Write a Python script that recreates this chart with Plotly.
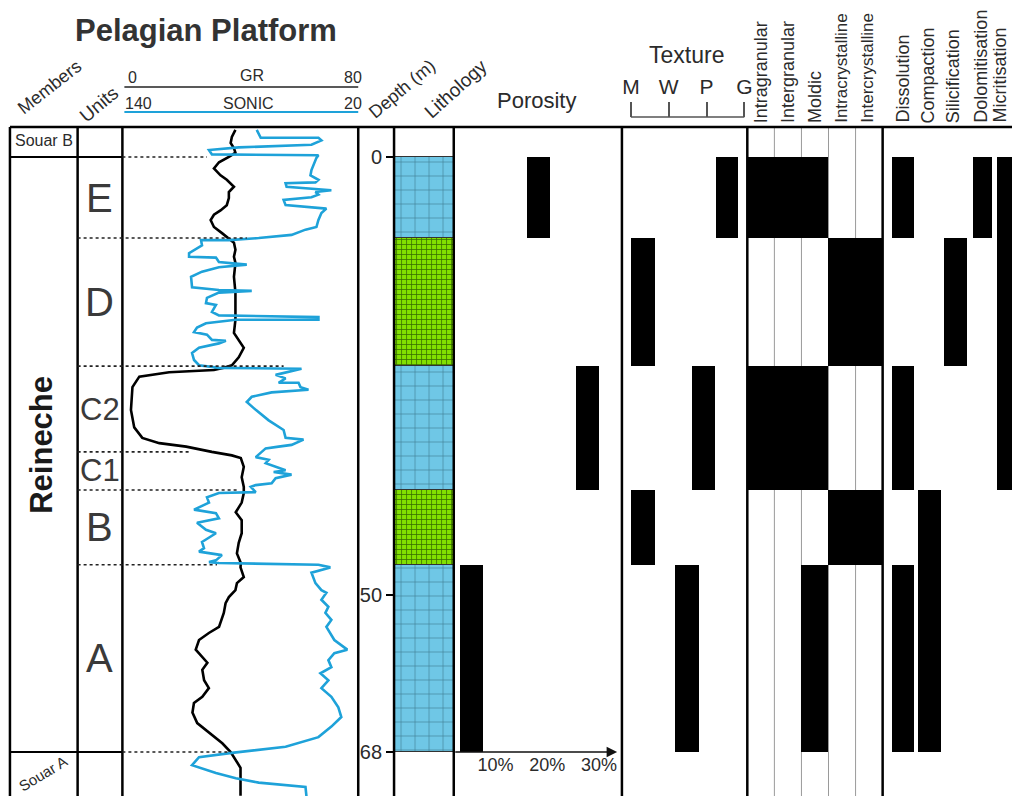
import plotly.graph_objects as go

W, H = 1017, 796


def px(x):
    return x / W


def py(y):
    return 1 - y / H


FONT = "Liberation Sans, Arial, sans-serif"
TXT = "#2b2b2b"
BLUE = "#1ea2d9"

# ---------------- data ----------------
units = ["E", "D", "C2", "C1", "B", "A"]
unit_top = [0.0, 9.26, 23.9, 33.7, 38.06, 46.6]
unit_base = [9.26, 23.9, 33.7, 38.06, 46.6, 68.0]

# zones used for lithology / porosity / texture / pore types / diagenesis
zones = ["E", "D", "C", "B", "A"]
zone_top = [0.0, 9.26, 23.9, 38.06, 46.6]
zone_base = [9.26, 23.9, 38.06, 46.6, 68.0]
lithology = ["Limestone", "Dolomite", "Limestone", "Dolomite", "Limestone"]

# porosity ranges (%) for E, C, A
poro_top = [0.0, 23.9, 46.6]
poro_base = [9.26, 38.06, 68.0]
poro_low = [16.0, 25.5, 3.0]
poro_high = [20.5, 30.0, 7.5]

# texture (M=0, W=1, P=2, G=3) ranges per zone
texture_labels = ["M", "W", "P", "G"]
tex_low = [2.24, 0.0, 1.61, 0.0, 1.16]
tex_high = [2.84, 0.63, 2.21, 0.63, 1.79]

pore_types = ["Intragranular", "Intergranular", "Moldic", "Intracrystalline", "Intercrystalline"]
pore_presence = [
    [1, 0, 1, 0, 0],
    [1, 0, 1, 0, 0],
    [1, 0, 1, 0, 1],
    [0, 1, 0, 1, 0],
    [0, 1, 0, 1, 0],
]
diagenesis = ["Dissolution", "Compaction", "Silicification", "Dolomitisation", "Micritisation"]
diag_presence = [
    [1, 0, 1, 0, 1],
    [0, 0, 0, 1, 1],
    [0, 1, 0, 0, 0],
    [1, 0, 0, 0, 0],
    [1, 1, 1, 0, 0],
]

gr_depth = [-3.1, -2.3, -1.6, -1.0, -0.5, 0.0, 0.6, 1.3, 2.1, 2.6, 3.4, 4.0, 4.7, 5.5, 6.1, 6.6,
            7.2, 8.0, 8.7, 9.3, 9.8, 10.6, 11.4, 12.1, 13.7, 15.5, 17.1, 18.6, 20.1, 20.9, 21.8,
            22.9, 23.8, 24.1, 24.35, 24.6, 25.1, 26.3, 28.9, 30.9, 32.1, 32.7, 33.1, 33.7, 34.1,
            34.4, 35.4, 36.6, 37.7, 38.4, 39.5, 40.6, 41.5, 43.0, 44.1, 45.3, 46.4, 46.9, 48.0,
            48.7, 49.5, 50.3, 51.0, 52.1, 53.7, 54.4, 55.2, 56.3, 57.1, 57.8, 58.6, 59.8, 60.7,
            61.7, 62.4, 63.5, 64.7, 65.8, 67.0, 68.0, 68.9, 69.8, 71.2, 73.0]
gr_value = [37.2, 36.0, 35.6, 36.7, 37.2, 35.0, 31.7, 30.0, 32.2, 34.3, 36.7, 35.0, 35.0, 34.3,
            32.2, 30.0, 28.9, 30.0, 32.7, 35.0, 36.7, 37.2, 36.7, 37.2, 36.7, 37.2, 37.2, 37.2,
            36.7, 38.3, 40.0, 38.3, 36.0, 33.0, 30.0, 15.0, 5.0, 2.7, 2.2, 3.3, 6.0, 11.7, 20.7,
            29.3, 36.0, 39.0, 40.0, 39.3, 40.0, 40.0, 39.3, 37.3, 39.3, 39.3, 38.3, 37.7, 39.0,
            38.9, 40.0, 37.7, 37.2, 35.0, 33.9, 33.3, 31.7, 28.3, 25.0, 23.9, 26.1, 27.8, 26.1,
            26.7, 28.3, 26.1, 23.3, 22.8, 24.4, 28.3, 32.8, 35.6, 37.2, 38.9, 38.9, 38.9]

sonic_depth = [-3.1, -2.2, -2.2, -1.9, -1.4, -1.1, -0.8, -0.3, -0.2, 0.1, 1.5, 2.1, 2.6, 2.9,
               3.0, 3.4, 3.8, 4.0, 4.3, 4.6, 4.9, 5.5, 5.9, 6.4, 7.2, 8.0, 8.3, 8.9, 9.26, 9.5,
               9.5, 10.1, 11.0, 11.4, 11.5, 12.0, 12.3, 12.6, 13.1, 13.7, 14.9, 15.2, 15.3, 15.5,
               16.1, 16.7, 16.9, 17.7, 18.1, 18.3, 18.6, 18.6, 19.0, 19.5, 20.0, 20.3, 20.9,
               21.0, 21.3, 21.8, 22.4, 23.2, 23.8, 24.1, 24.2, 24.9, 25.3, 25.8, 25.8, 26.3,
               26.6, 26.9, 27.4, 28.0, 28.9, 30.1, 31.2, 32.1, 32.3, 32.9, 33.1, 33.3, 34.3,
               34.6, 35.0, 35.8, 36.0, 36.3, 36.7, 37.3, 37.5, 37.7, 38.3, 38.4, 38.9, 39.5,
               40.3, 40.7, 41.3, 41.8, 42.6, 43.0, 44.0, 44.7, 45.1, 45.5, 46.1, 46.3, 46.4,
               46.6, 46.9, 47.5, 48.7, 49.5, 49.8, 50.6, 51.4, 52.1, 52.9, 53.7, 55.2, 56.3,
               56.7, 57.5, 58.3, 59.0, 59.8, 60.7, 61.7, 62.9, 64.0, 65.1, 66.3, 67.4, 68.1,
               68.6, 69.5, 70.4, 71.0, 71.5, 72.0, 72.7, 73.1]
sonic_value = [73.5, 71.5, 42.5, 41.0, 46.0, 82.5, 97.5, 96.0, 42.5, 43.5, 46.0, 46.5, 42.5, 44.0,
               59.0, 58.5, 36.0, 44.0, 42.5, 46.0, 60.0, 59.0, 38.5, 41.0, 42.5, 43.5, 49.0,
               56.0, 72.5, 87.5, 101.5, 101.0, 107.5, 107.5, 94.0, 92.5, 78.5, 92.5, 101.0,
               106.5, 106.0, 92.5, 76.0, 92.5, 98.5, 99.0, 94.0, 96.0, 92.5, 42.5, 42.5, 84.0,
               99.0, 103.5, 105.0, 98.5, 96.0, 89.0, 92.5, 102.5, 106.0, 105.0, 102.5, 92.5,
               51.0, 64.0, 59.0, 62.5, 52.5, 51.5, 47.5, 66.0, 76.0, 78.5, 74.0, 67.5, 60.0,
               59.0, 50.0, 56.0, 62.5, 69.0, 74.0, 67.5, 69.0, 59.0, 65.0, 56.0, 64.0, 66.0,
               74.0, 76.5, 74.0, 92.5, 98.5, 97.5, 105.0, 94.0, 92.5, 103.5, 99.0, 94.0, 101.0,
               100.0, 102.5, 91.0, 94.0, 97.5, 92.5, 42.5, 36.5, 46.0, 44.0, 41.0, 38.5, 41.0,
               37.5, 39.0, 36.0, 38.5, 34.5, 28.0, 34.5, 37.5, 36.0, 41.5, 37.5, 41.0, 36.0,
               32.5, 31.0, 36.0, 42.5, 59.0, 86.0, 102.5, 106.0, 94.0, 84.0, 72.5, 49.0, 48.5,
               48.5]

depth_ticks = [0, 50, 68]
poro_ticks = [10, 20, 30]

# ---------------- geometry of the panel ----------------
TOP_PX, BOT_PX = 127, 796
D0_PX, D68_PX = 157, 752
ppm = (D68_PX - D0_PX) / 68.0
depth_min = (TOP_PX - D0_PX) / ppm
depth_max = (BOT_PX - D0_PX) / ppm
ydom = [0, py(TOP_PX)]


def dom(a, b):
    return [px(a), min(px(b), 1.0)]


fig = go.Figure()

# GR and Sonic logs
fig.add_trace(go.Scatter(x=sonic_value, y=sonic_depth, mode="lines", xaxis="x2", yaxis="y",
                         line=dict(color=BLUE, width=2.6), hoverinfo="skip", showlegend=False))
fig.add_trace(go.Scatter(x=gr_value, y=gr_depth, mode="lines", xaxis="x", yaxis="y",
                         line=dict(color="black", width=2.6), hoverinfo="skip", showlegend=False))

# Lithology
lith_style = {
    "Limestone": dict(color="#6fc7e6", fg="#3f7f96", shape="+", size=14, solidity=0.09),
    "Dolomite": dict(color="#82e000", fg="#356b00", shape="+", size=5, solidity=0.28),
}
for t, b, lt in zip(zone_top, zone_base, lithology):
    s = lith_style[lt]
    fig.add_trace(go.Bar(x=[0.5], y=[b - t], base=[t], width=[1.0], xaxis="x7", yaxis="y",
                         marker=dict(color=s["color"], line=dict(color="#333", width=1),
                                     pattern=dict(shape=s["shape"], size=s["size"],
                                                  solidity=s["solidity"], fgcolor=s["fg"],
                                                  bgcolor=s["color"], fillmode="replace")),
                         hoverinfo="skip", showlegend=False))

# Porosity
fig.add_trace(go.Bar(x=[(lo + hi) / 2 for lo, hi in zip(poro_low, poro_high)],
                     width=[hi - lo for lo, hi in zip(poro_low, poro_high)],
                     y=[b - t for t, b in zip(poro_top, poro_base)], base=poro_top,
                     xaxis="x3", yaxis="y", marker=dict(color="black", line=dict(width=0)),
                     hoverinfo="skip", showlegend=False))

# Texture
fig.add_trace(go.Bar(x=[(lo + hi) / 2 for lo, hi in zip(tex_low, tex_high)],
                     width=[hi - lo for lo, hi in zip(tex_low, tex_high)],
                     y=[b - t for t, b in zip(zone_top, zone_base)], base=zone_top,
                     xaxis="x4", yaxis="y", marker=dict(color="black", line=dict(width=0)),
                     hoverinfo="skip", showlegend=False))

# Pore types
for i, pres in enumerate(pore_presence):
    tops = [t for t, p in zip(zone_top, pres) if p]
    thick = [b - t for t, b, p in zip(zone_top, zone_base, pres) if p]
    fig.add_trace(go.Bar(x=[i] * len(tops), y=thick, base=tops, width=1.0, xaxis="x5", yaxis="y",
                         marker=dict(color="black", line=dict(width=0)), hoverinfo="skip",
                         showlegend=False))

# Diagenesis
diag_bar_width = [0.86, 0.86, 0.86, 0.72, 0.86]
for i, pres in enumerate(diag_presence):
    tops = [t for t, p in zip(zone_top, pres) if p]
    thick = [b - t for t, b, p in zip(zone_top, zone_base, pres) if p]
    fig.add_trace(go.Bar(x=[i] * len(tops), y=thick, base=tops, width=diag_bar_width[i],
                         xaxis="x6", yaxis="y",
                         marker=dict(color="black", line=dict(width=0)), hoverinfo="skip",
                         showlegend=False))

hidden = dict(visible=False, showgrid=False, zeroline=False, fixedrange=True)

# axis ranges derived from the header scales
gr_rng = [(123 - 125) / 3.0, (360 - 125) / 3.0]            # GR 0..80 over 125..365 px
son_rng = [140 - (123 - 125) / 2.0, 140 - (360 - 125) / 2.0]  # Sonic 140..20 over 125..365 px
por_rng = [(456 - 446) / 5.2, (625 - 446) / 5.2]
tex_rng = [(625 - 634) / 38.0, (751 - 634) / 38.0]
diag_rng = [(887 - 907) / 26.5, (1017 - 907) / 26.5]

fig.update_layout(
    width=W, height=H, margin=dict(l=0, r=0, t=0, b=0),
    paper_bgcolor="white", plot_bgcolor="rgba(0,0,0,0)",
    barmode="overlay", bargap=0, hovermode=False, showlegend=False,
    font=dict(family=FONT, color=TXT),
    yaxis=dict(domain=ydom, range=[depth_max, depth_min], anchor="free", position=px(396),
               side="left", showgrid=False, zeroline=False, showline=False,
               ticks="outside", ticklen=8, tickwidth=1.5, tickcolor="black",
               tickvals=depth_ticks, ticktext=[str(v) for v in depth_ticks],
               tickfont=dict(family=FONT, size=20, color=TXT), fixedrange=True),
    xaxis=dict(domain=dom(123, 360), range=gr_rng, anchor="y", **hidden),
    xaxis2=dict(domain=dom(123, 360), range=son_rng, overlaying="x", anchor="y", **hidden),
    xaxis3=dict(domain=dom(456, 625), range=por_rng, anchor="free", position=py(752),
                side="bottom", showgrid=False, zeroline=False, showline=False, ticks="",
                tickvals=poro_ticks, ticktext=[f"{v}%" for v in poro_ticks],
                tickfont=dict(family=FONT, size=18, color=TXT), fixedrange=True),
    xaxis4=dict(domain=dom(625, 751), range=tex_rng, anchor="free", position=py(117),
                side="top", showgrid=False, zeroline=False, showline=False,
                ticks="outside", ticklen=15, tickwidth=1.5, tickcolor="#555",
                tickvals=[0, 1, 2, 3], ticktext=texture_labels,
                tickfont=dict(family=FONT, size=21, color=TXT), fixedrange=True),
    xaxis5=dict(domain=dom(751, 887), range=[-0.5, 4.5], anchor="y", **hidden),
    xaxis6=dict(domain=dom(887, 1017), range=diag_rng, anchor="y", **hidden),
    xaxis7=dict(domain=dom(396, 456), range=[0, 1], anchor="y", **hidden),
)

shapes = []


def vline_px(x, y0=TOP_PX, y1=BOT_PX, color="black", width=2.5):
    shapes.append(dict(type="line", xref="paper", yref="paper", x0=px(x), x1=px(x),
                       y0=py(y0), y1=py(y1), line=dict(color=color, width=width)))


# pore type separators
for k in range(1, 5):
    shapes.append(dict(type="line", xref="x5", yref="paper", x0=k - 0.5, x1=k - 0.5,
                       y0=0, y1=ydom[1], line=dict(color="#9a9a9a", width=1), layer="below"))

# column frames
for xb in [10, 78, 123, 360, 396, 456, 625, 751, 887]:
    vline_px(xb)
shapes.append(dict(type="line", xref="paper", yref="paper", x0=px(10), x1=1, y0=py(TOP_PX),
                   y1=py(TOP_PX), line=dict(color="black", width=2.5)))

# member boundaries (solid) and unit boundaries (dotted)
for d in [0.0, 68.0]:
    shapes.append(dict(type="line", xref="paper", yref="y", x0=px(10), x1=px(123), y0=d, y1=d,
                       line=dict(color="black", width=2)))
bound_depth = [0.0, 9.26, 23.9, 33.7, 38.06, 46.6, 68.0]
bound_x0 = [123, 78, 78, 78, 78, 78, 123]
bound_x1 = [208, 248, 285, 190, 238, 218, 232]
for d, a, b in zip(bound_depth, bound_x0, bound_x1):
    shapes.append(dict(type="line", xref="paper", yref="y", x0=px(a), x1=px(b), y0=d, y1=d,
                       line=dict(color="#222", width=1.6, dash="dot")))

# GR / Sonic header scale lines
shapes.append(dict(type="line", xref="x", yref="paper", x0=0, x1=80, y0=py(87), y1=py(87),
                   line=dict(color="#222", width=1.5)))
shapes.append(dict(type="line", xref="x2", yref="paper", x0=140, x1=20, y0=py(112), y1=py(112),
                   line=dict(color=BLUE, width=2)))
# texture bracket line
shapes.append(dict(type="line", xref="x4", yref="paper", x0=0, x1=3, y0=py(117), y1=py(117),
                   line=dict(color="#555", width=1.5)))

fig.update_layout(shapes=shapes)

ann = []


def text(x, y, s, size, angle=0, bold=False, xanchor="center", yanchor="middle",
         yref="paper", color=TXT):
    ann.append(dict(x=px(x), y=(py(y) if yref == "paper" else y), xref="paper", yref=yref,
                    text=(f"<b>{s}</b>" if bold else s), showarrow=False, textangle=angle,
                    xanchor=xanchor, yanchor=yanchor,
                    font=dict(family=FONT, size=size, color=color)))


text(207, 31, "Pelagian Platform", 31, bold=True, color="#333")
text(50, 87, "Members", 18, angle=-38)
text(99, 104, "Units", 19, angle=-40)
text(404, 89, "Depth (m)", 18, angle=-40)
text(458, 88, "Lithology", 19, angle=-42)
text(539, 101, "Porosity", 22)
text(690, 55, "Texture", 23)

text(133, 77, "0", 16)
text(253, 76, "GR", 16)
text(355, 77, "80", 16)
text(139, 103, "140", 16)
text(250, 103, "SONIC", 16)
text(355, 103, "20", 16)

pore_x = [765, 792, 819, 846, 872]
pore_size = [18, 18, 18, 17, 17]
for xx, s, fs in zip(pore_x, pore_types, pore_size):
    text(xx, 125, s, fs, angle=-90, yanchor="bottom")
diag_x = [907, 933, 958, 986, 1005]
for xx, s in zip(diag_x, diagenesis):
    text(xx, 125, s, 18, angle=-90, yanchor="bottom")

for u, t, b in zip(units, unit_top, unit_base):
    text(100, (t + b) / 2, u, 31 if u.startswith("C") else 40, yref="y", color="#3a3a3a")

text(42, 445, "Reineche", 31, angle=-90, bold=True, color="#1a1a1a")
text(44, 141, "Souar B", 16)
text(43, 773, "Souar A", 15, angle=-31)

# porosity axis arrow
ann.append(dict(x=33.5, y=68, xref="x3", yref="y", ax=por_rng[0], ay=68, axref="x3", ayref="y",
                text="", showarrow=True, arrowhead=2, arrowsize=1.4, arrowwidth=1.5,
                arrowcolor="#111"))

fig.update_layout(annotations=ann)
fig.write_html("out.html", config={"displayModeBar": False},
               post_script="document.body.style.margin='0';document.body.style.overflow='hidden';")
